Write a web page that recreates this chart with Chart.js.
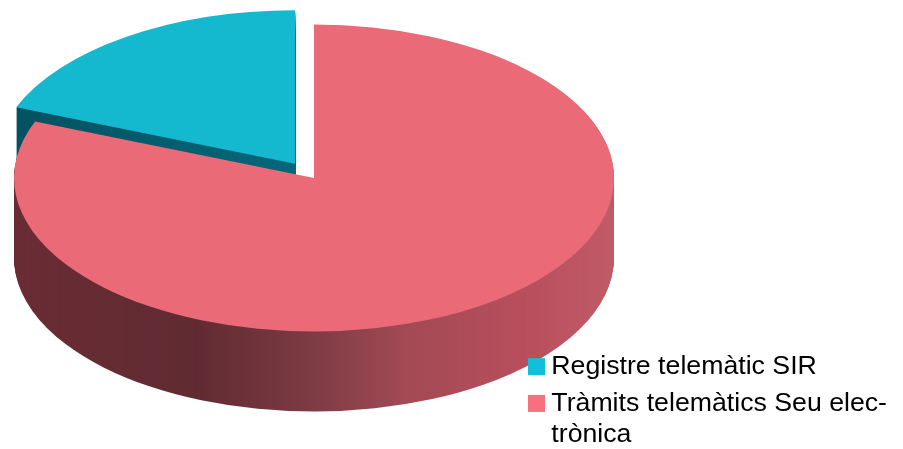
<!DOCTYPE html>
<html>
<head>
<meta charset="utf-8">
<style>
  html, body { margin: 0; padding: 0; background: #fff; }
  #wrap { width: 903px; height: 449px; }
</style>
</head>
<body>
<div id="wrap"><canvas id="pie" width="903" height="449"></canvas></div>
<script src="https://cdn.jsdelivr.net/npm/chart.js@4"></script>
<script>
// Chart data
const categories = ["Registre telemàtic SIR", ["Tràmits telemàtics Seu elec-", "trònica"]];
const shares = [19, 81];

// Colours
const topColors = ["#14b8cf", "#ea6a78"];
const legendColors = ["#12bfd8", "#f6707e"];
const wallStops = [
  [[0, "#04505f"], [0.5, "#06687a"], [1, "#0a7c8f"]],
  [[0, "#6a2d35"], [0.3, "#612b32"], [0.48, "#7a3a42"], [0.65, "#a24a55"], [0.85, "#b84f5c"], [1, "#c05c68"]],
];

// 3D look of the pie, in page pixels
const pieLook = { x: 314, y: 178, rx: 300, ry: 153.5, depth: 80, explode: [0.112, 0], startAngle: -68.4 };

function drawSlice(ctx, arc, fill, ox, oy) {
  const R = arc.outerRadius;
  ctx.save();
  ctx.translate(pieLook.x + ox, pieLook.y + oy);
  ctx.scale(pieLook.rx / R, pieLook.ry / R);
  ctx.translate(-arc.x, -arc.y);
  const saved = arc.options;
  arc.options = { ...saved, backgroundColor: fill(ctx, arc), borderWidth: 0 };
  arc.draw(ctx);
  arc.options = saved;
  ctx.restore();
}

// Draws the slices with a wall under them, before the legend goes on top
const pie3d = {
  id: "pie3d",
  beforeDraw(chart) {
    const ctx = chart.ctx;
    ctx.save();
    ctx.filter = "blur(0.7px)";
    chart.getDatasetMeta(0).data.forEach((arc, i) => {
      const mid = (arc.startAngle + arc.endAngle) / 2;
      const ox = Math.cos(mid) * pieLook.rx * pieLook.explode[i];
      const oy = Math.sin(mid) * pieLook.ry * pieLook.explode[i];
      const wall = (c, a) => {
        const g = c.createLinearGradient(a.x - a.outerRadius, 0, a.x + a.outerRadius, 0);
        wallStops[i].forEach((s) => g.addColorStop(s[0], s[1]));
        return g;
      };
      for (let d = pieLook.depth; d > 0; d--) {
        drawSlice(ctx, arc, wall, ox, oy + d);
      }
      drawSlice(ctx, arc, () => topColors[i], ox, oy);
    });
    ctx.restore();
  },
  beforeDatasetsDraw() {
    return false;
  },
};

new Chart(document.getElementById("pie"), {
  type: "pie",
  data: {
    labels: categories,
    datasets: [{ data: shares, backgroundColor: topColors, borderWidth: 0 }],
  },
  options: {
    responsive: false,
    animation: false,
    rotation: pieLook.startAngle,
    layout: { padding: { right: 6, bottom: -13 } },
    plugins: {
      tooltip: { enabled: false },
      legend: {
        position: "right",
        align: "end",
        labels: {
          boxWidth: 3,
          boxHeight: 3,
          padding: 10,
          color: "#111",
          font: { family: "'Liberation Sans', Arial, sans-serif", size: 26.7, lineHeight: 1.16 },
          generateLabels: () =>
            categories.map((text, i) => ({
              text,
              fillStyle: legendColors[i],
              strokeStyle: legendColors[i],
              lineWidth: 14,
              index: i,
            })),
        },
      },
    },
  },
  plugins: [pie3d],
});
</script>
</body>
</html>
